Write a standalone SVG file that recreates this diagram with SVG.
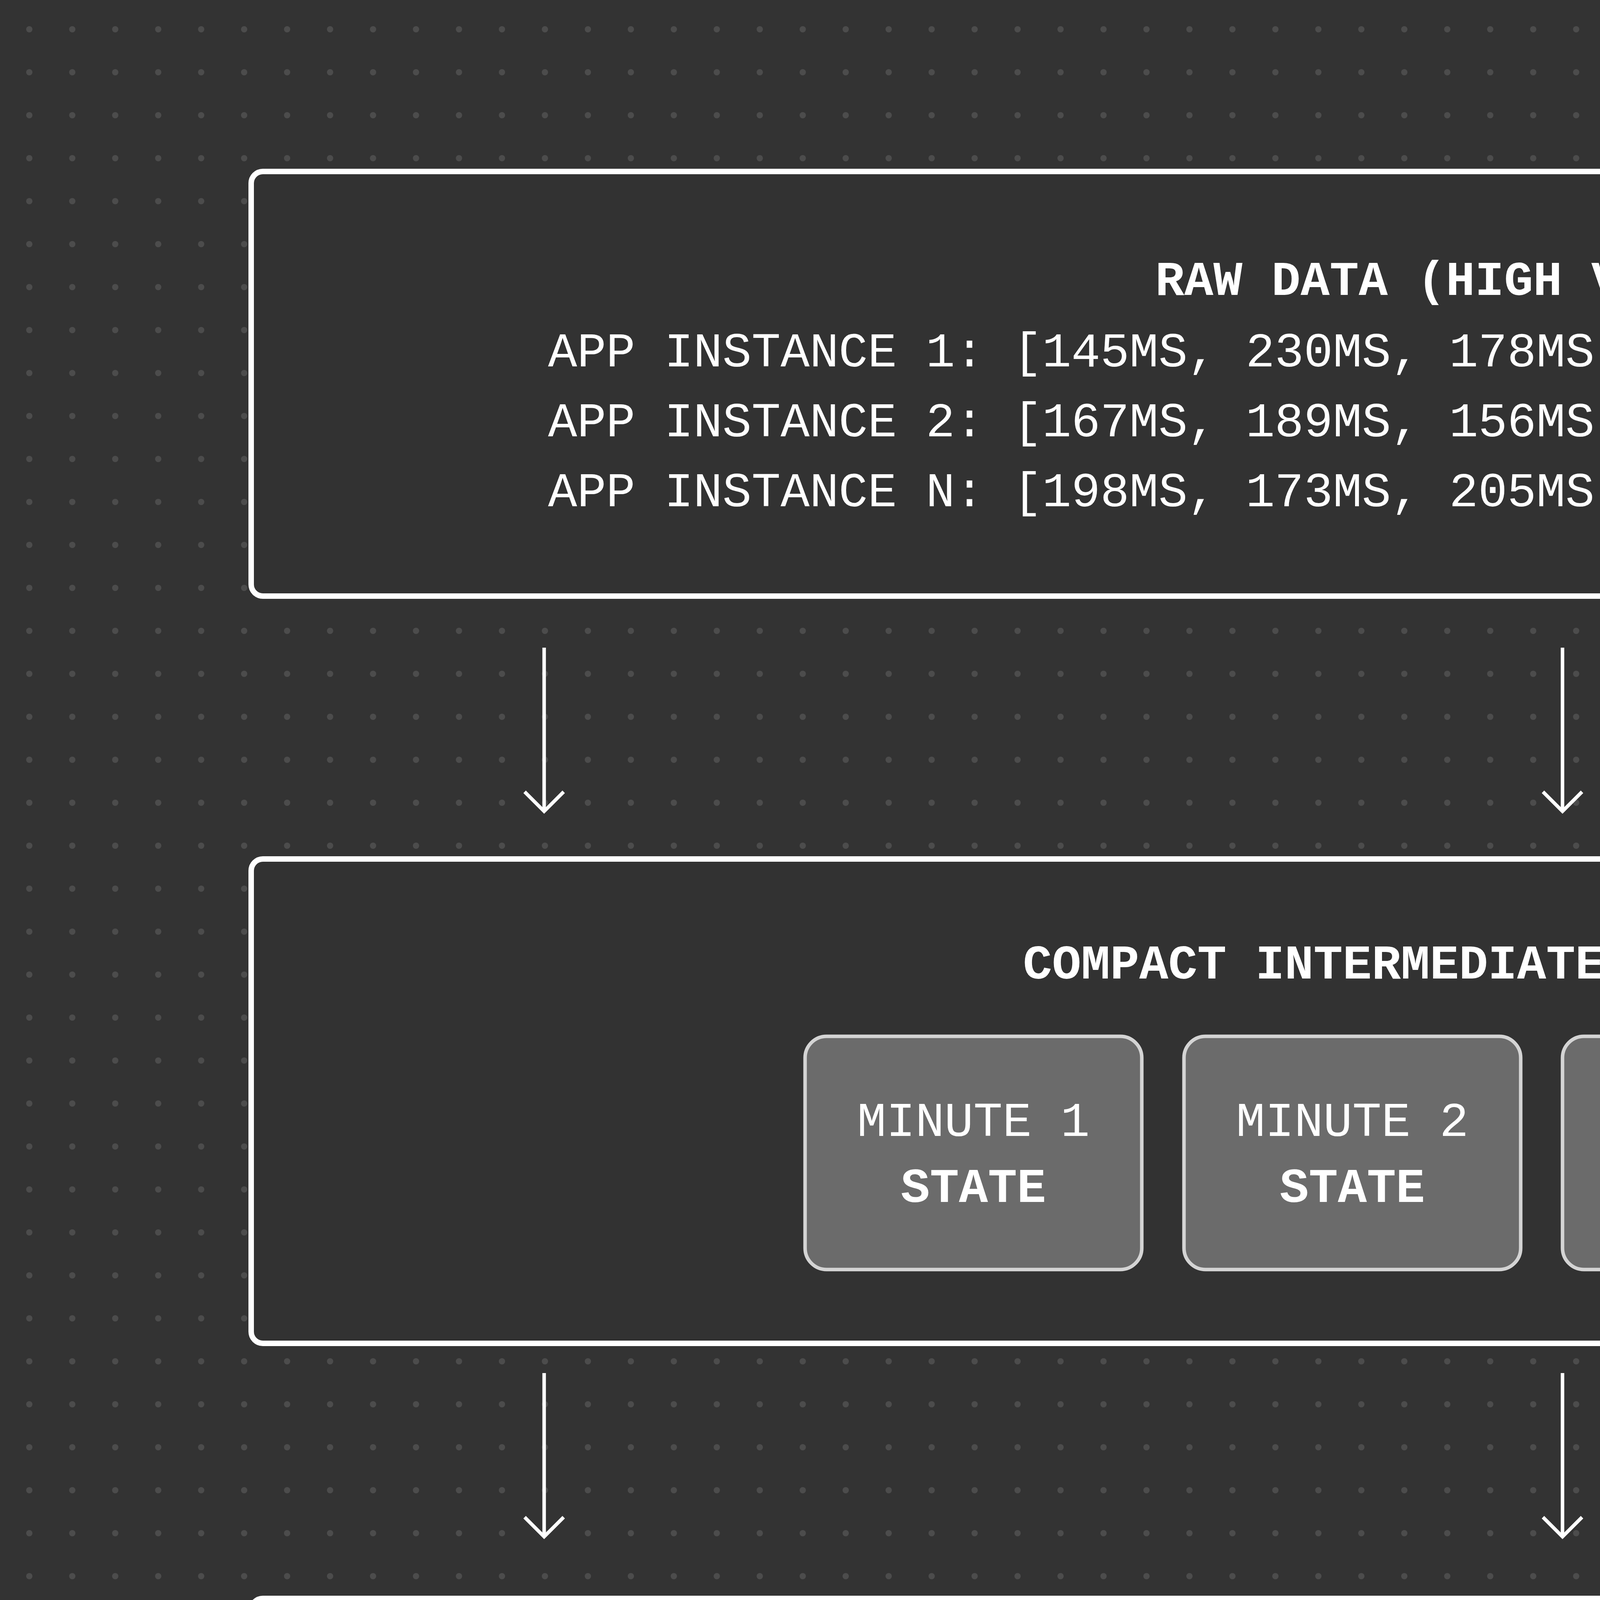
<svg xmlns="http://www.w3.org/2000/svg" width="8000" height="5992" viewBox="0 0 8000 5992">
<defs>
<pattern id="dots" x="0" y="0" width="110" height="110" patternUnits="userSpaceOnUse"><circle cx="75" cy="75" r="8" fill="#4c4c4c"/></pattern>
<marker id="ah" viewBox="0 0 20 20" refX="10" refY="18" markerWidth="9" markerHeight="9" markerUnits="userSpaceOnUse" orient="auto-start-reverse"/>
</defs>
<style>
.big{fill:#323232;stroke:#fff;stroke-width:14}
.sm{fill:#6b6b6b;stroke:#d4d4d4;stroke-width:9}
text{font-family:"Liberation Mono","DejaVu Sans Mono",monospace;fill:#fff}
.t{font-size:124px;font-weight:bold;text-anchor:middle}
.l{font-size:124px}
.lab{font-size:112px}
.c{text-anchor:middle;font-size:124px}
.b{font-weight:bold}
.con line,.con path{stroke:#fff;stroke-width:9;fill:none}
</style>
<rect width="8000" height="5992" fill="#333333"/>
<rect width="8000" height="5992" fill="url(#dots)"/>
<g id="raw">
<rect class="big" x="643" y="439" width="6934" height="1087" rx="30"/>
<text class="t" x="3776" y="755">RAW DATA (HIGH VOLUME)</text>
<text class="l" x="1403" y="938">APP INSTANCE 1: [145MS, 230MS, 178MS, 201MS, 192MS, 188MS, ... ]</text>
<text class="l" x="1403" y="1117">APP INSTANCE 2: [167MS, 189MS, 156MS, 214MS, 199MS, 173MS, ... ]</text>
<text class="l" x="1403" y="1296">APP INSTANCE N: [198MS, 173MS, 205MS, 188MS, 181MS, 196MS, ... ]</text>
</g>
<g class="con" id="connectors">
<line x1="1393" y1="1658" x2="1393" y2="2077"/><path d="M1343 2027 L1393 2077 L1443 2027"/>
<line x1="4000" y1="1658" x2="4000" y2="2077"/><path d="M3950 2027 L4000 2077 L4050 2027"/>
<line x1="6602" y1="1658" x2="6602" y2="2077"/><path d="M6552 2027 L6602 2077 L6652 2027"/>
<line x1="1393" y1="3515" x2="1393" y2="3934"/><path d="M1343 3884 L1393 3934 L1443 3884"/>
<line x1="4000" y1="3515" x2="4000" y2="3934"/><path d="M3950 3884 L4000 3934 L4050 3884"/>
<line x1="6602" y1="3515" x2="6602" y2="3934"/><path d="M6552 3884 L6602 3934 L6652 3884"/>
<text class="lab" x="4801" y="1929">PERCENTILE_AGG</text>
<text class="lab" x="4801" y="3730">MERGE STATES</text>
<text class="lab" x="4801" y="3872">(NO REPROCESSING!)</text>
</g>
<g id="compact">
<rect class="big" x="643" y="2199" width="6934" height="1240" rx="30"/>
<text class="t" x="4107" y="2505">COMPACT INTERMEDIATE STATES (per minute)</text>
<text class="c" x="5077" y="2975">...</text>
</g>
<g id="m1"><rect class="sm" x="2061" y="2653" width="862" height="597" rx="55"/><text class="c" x="2492" y="2908">MINUTE 1</text><text class="c b" x="2492" y="3077">STATE</text></g>
<g id="m2"><rect class="sm" x="3031" y="2653" width="862" height="597" rx="55"/><text class="c" x="3462" y="2908">MINUTE 2</text><text class="c b" x="3462" y="3077">STATE</text></g>
<g id="m3"><rect class="sm" x="4000" y="2653" width="862" height="597" rx="55"/><text class="c" x="4431" y="2908">MINUTE 3</text><text class="c b" x="4431" y="3077">STATE</text></g>
<g id="mn"><rect class="sm" x="5296" y="2653" width="862" height="597" rx="55"/><text class="c" x="5727" y="2908">MINUTE N</text><text class="c b" x="5727" y="3077">STATE</text></g>
<g id="rollup">
<rect class="big" x="643" y="4092" width="6934" height="1245" rx="30"/>
<text class="t" x="4107" y="4398">ROLLUP AGGREGATIONS</text>
</g>
<g id="hourly"><rect class="sm" x="2429" y="4546" width="1551" height="602" rx="55"/><text class="c b" x="3204" y="4806">HOURLY P95</text><text class="c" x="3204" y="4975">(MERGE 60 STATES)</text></g>
<g id="daily"><rect class="sm" x="4087" y="4546" width="1704" height="602" rx="55"/><text class="c b" x="4939" y="4806">DAILY P95</text><text class="c" x="4939" y="4975">(MERGE 1440 STATES)</text></g>
</svg>
